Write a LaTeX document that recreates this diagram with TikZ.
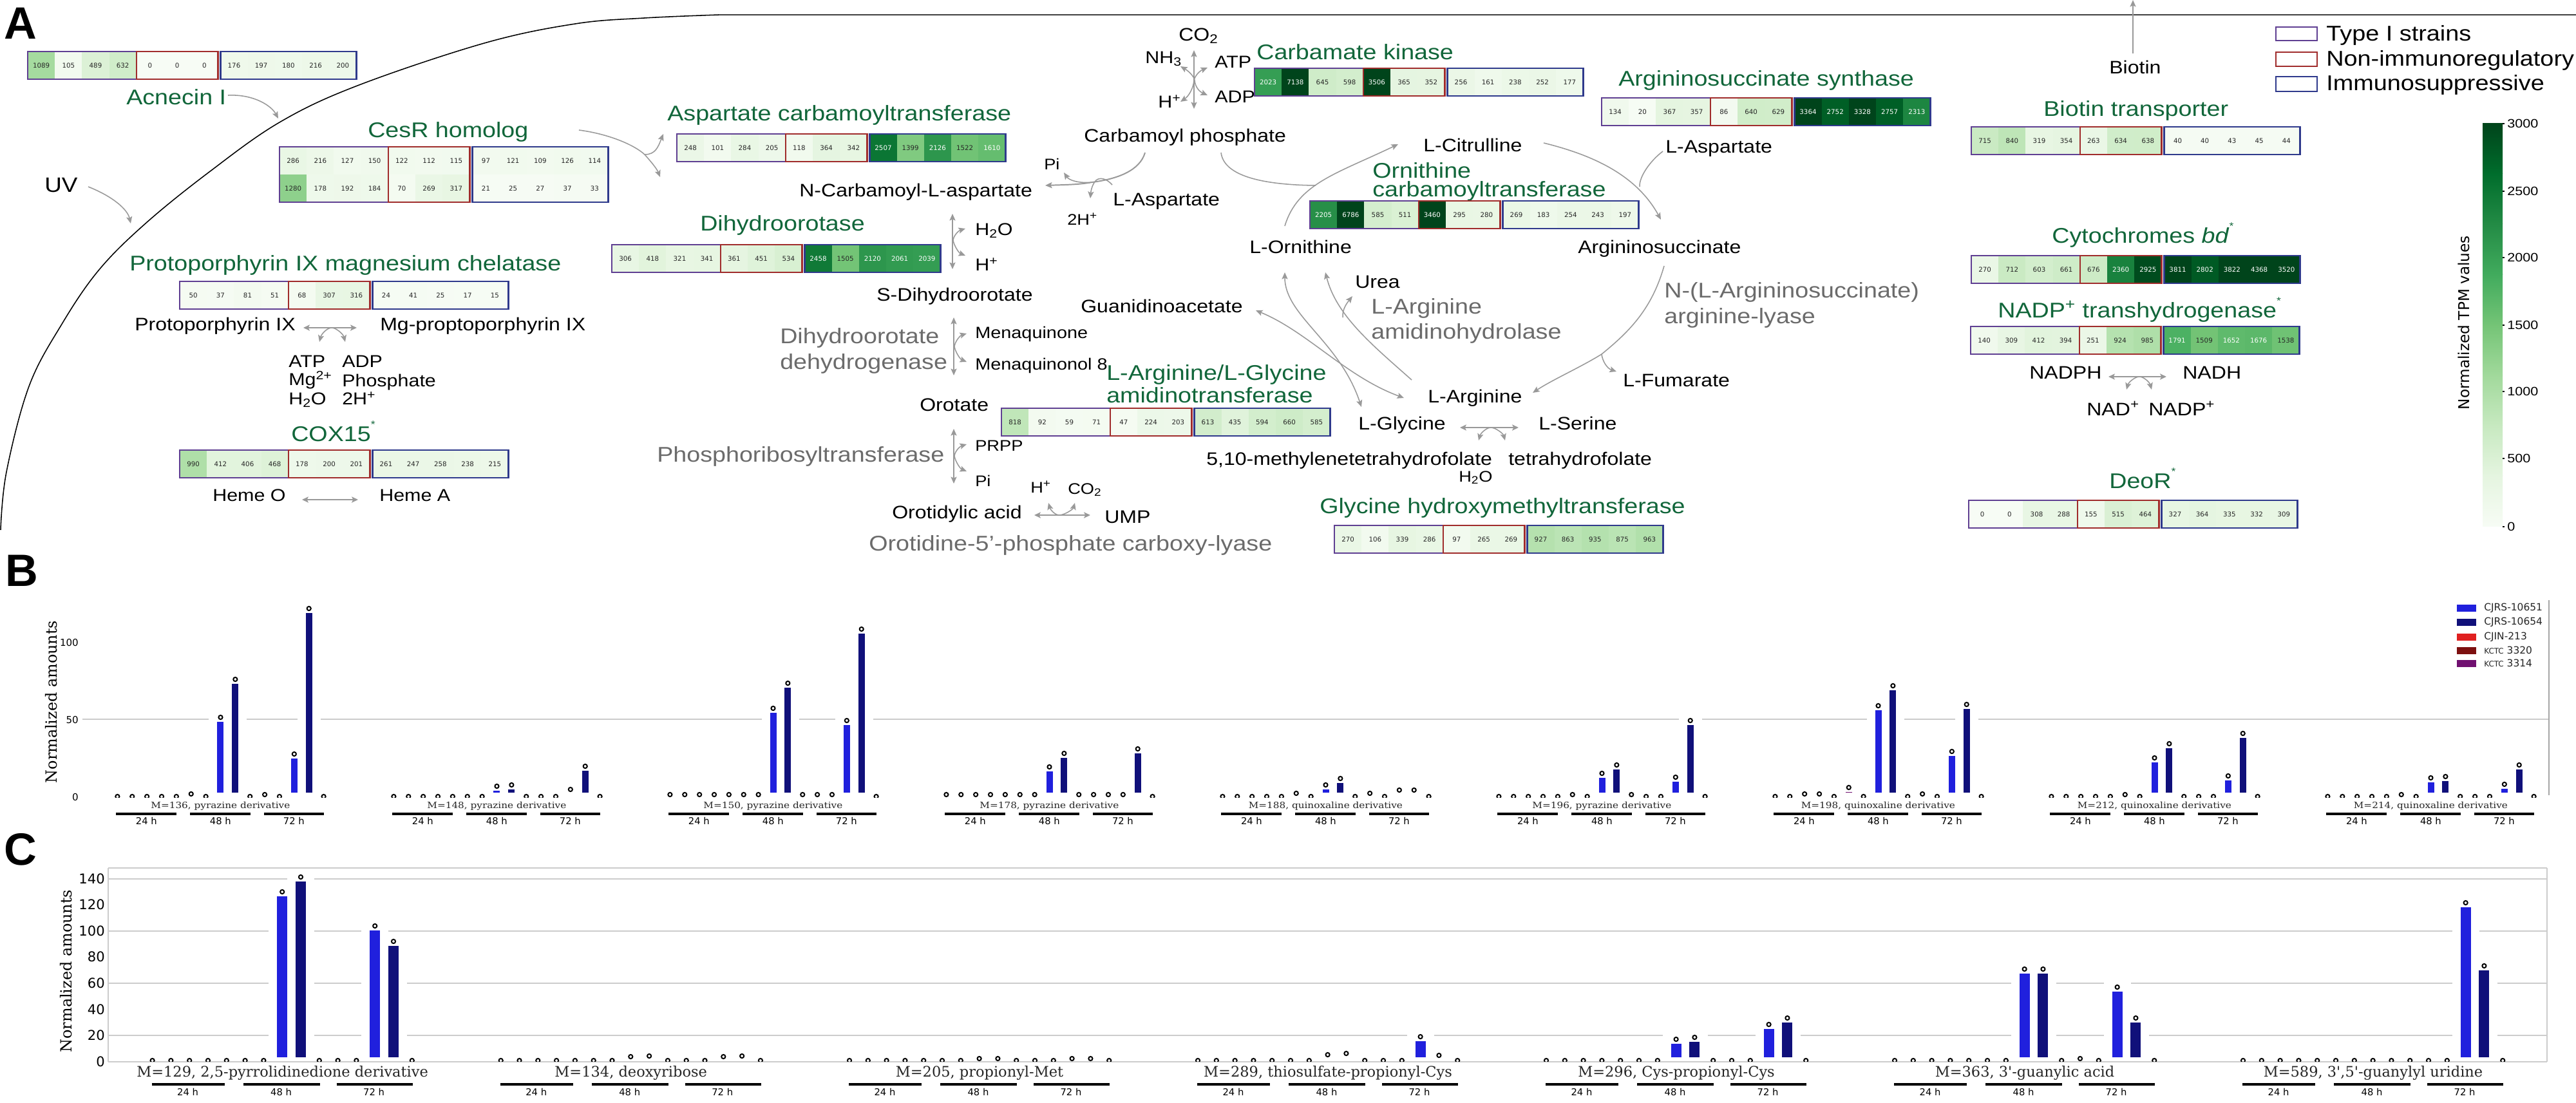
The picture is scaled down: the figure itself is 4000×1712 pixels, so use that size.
\documentclass[tikz,border=0pt]{standalone}
\usepackage{fontspec}
\usetikzlibrary{arrows.meta}
\setmainfont[FakeStretch=1.14]{Liberation Sans}
\newfontfamily\plainsans{Liberation Sans}
\newfontfamily\djs{DejaVu Sans}
\newfontfamily\djsf{DejaVu Serif}
\newfontfamily\djsfw[FakeStretch=1.13]{DejaVu Serif}
\newcommand{\supstar}{\raisebox{0.62em}{\fontsize{11}{11}\selectfont *}}
\definecolor{g0}{HTML}{F7FCF5}\definecolor{g1}{HTML}{E5F5E0}\definecolor{g2}{HTML}{C7E9C0}
\definecolor{g3}{HTML}{A1D99B}\definecolor{g4}{HTML}{74C476}\definecolor{g5}{HTML}{41AB5D}
\definecolor{g6}{HTML}{238B45}\definecolor{g7}{HTML}{006D2C}\definecolor{g8}{HTML}{00441B}
\definecolor{hgreen}{HTML}{11663A}
\definecolor{enzgrey}{HTML}{6B6B6B}
\definecolor{arrgrey}{HTML}{999999}
\definecolor{boxI}{HTML}{5F3F92}
\definecolor{boxN}{HTML}{A02C2C}
\definecolor{boxS}{HTML}{2F3A8C}
\definecolor{gridc}{HTML}{CCCCCC}
\definecolor{barblue}{HTML}{2020DD}
\definecolor{barnavy}{HTML}{10107A}
\definecolor{barred}{HTML}{E02020}
\definecolor{bardred}{HTML}{7D1010}
\definecolor{barpurple}{HTML}{701070}
\tikzset{
  hd/.style={anchor=base west,inner sep=0pt,text=hgreen,font=\fontsize{23.5}{28}\selectfont},
  enz/.style={anchor=base west,inner sep=0pt,text=enzgrey,font=\fontsize{23.5}{28}\selectfont},
  blk/.style={anchor=base west,inner sep=0pt,text=black,font=\fontsize{20}{24}\selectfont},
  sml/.style={anchor=base west,inner sep=0pt,text=black,font=\fontsize{19}{23}\selectfont},
  mnq/.style={anchor=base west,inner sep=0pt,text=black,font=\fontsize{18}{22}\selectfont},
  xsm/.style={anchor=base west,inner sep=0pt,text=black,font=\fontsize{17}{20}\selectfont},
  lgd/.style={anchor=base west,inner sep=0pt,text=black,font=\fontsize{23.6}{28}\selectfont},
  cbt/.style={anchor=west,inner sep=0pt,text=black,font=\fontsize{13.5}{16}\selectfont},
  celltxt/.style={inner sep=0pt,font=\djs\fontsize{7.3}{8}\selectfont},
  panel/.style={anchor=base west,inner sep=0pt,font=\plainsans\bfseries\fontsize{50}{60}\selectfont},
  arr/.style={draw=arrgrey,line width=1.1pt,-{Stealth[length=7.5pt,width=6.5pt,inset=1.5pt]}},
  darr/.style={draw=arrgrey,line width=1.6pt,{Stealth[length=7pt,width=6.5pt,inset=1.5pt]}-{Stealth[length=7pt,width=6.5pt,inset=1.5pt]}},
  barr/.style={draw=arrgrey,line width=1.1pt,{Stealth[length=7.5pt,width=6.5pt,inset=1.5pt]}-{Stealth[length=7.5pt,width=6.5pt,inset=1.5pt]}},
  pln/.style={draw=arrgrey,line width=1.1pt},
  gridl/.style={draw=gridc,line width=2pt},
  tbar/.style={draw=black,line width=2.2pt},
  ylab/.style={rotate=90,inner sep=0pt,font=\djsf\fontsize{17}{20}\selectfont},
  tickB/.style={anchor=east,inner sep=0pt,font=\djs\fontsize{10.7}{13}\selectfont},
  tickC/.style={anchor=east,inner sep=0pt,font=\djs\fontsize{15}{18}\selectfont},
  grpB/.style={anchor=base,inner sep=0pt,text=black!85,font=\djsfw\fontsize{9.6}{12}\selectfont},
  grpC/.style={anchor=base,inner sep=0pt,text=black!85,font=\djsf\fontsize{16}{19}\selectfont},
  hrs/.style={anchor=center,inner sep=0pt,font=\djs\fontsize{10.5}{13}\selectfont},
  mrk/.style={draw=black,fill=white,line width=1.4pt},
  bleg/.style={anchor=west,inner sep=0pt,text=black!85,font=\djs\fontsize{11}{13}\selectfont},
}
% heat strip: name, x, y (top), list of 12 values
\newcommand{\hrow}[4]{%
  \foreach \hV [count=\hI] in {#4}{%
    \pgfmathsetmacro\hT{min(\hV,3000)/375}%
    \pgfmathtruncatemacro\hk{min(floor(\hT),7)}%
    \pgfmathtruncatemacro\hkk{\hk+1}%
    \pgfmathsetmacro\hp{100*(\hT-\hk)}%
    \colorlet{cellc}{g\hkk!\hp!g\hk}%
    \pgfmathsetmacro\hX{#2+(\hI-1)*42.2+(\hI>7?4:0)}%
    \pgfmathtruncatemacro\hW{\hV>=1600?1:0}%
    \ifnum\hW=1 \colorlet{celltext}{white}\else\colorlet{celltext}{black!85}\fi
    \fill[cellc] (\hX,#3) rectangle ++(42.2,43);
    \node[celltxt,text=celltext] (#1-\hI) at (\hX+21.1,#3+21.5) {\hV};
  }}
\newcommand{\hframe}[3]{% x, y, h
  \draw[boxI,line width=1.8pt] (#1,#2) rectangle ++(168.8,#3);
  \draw[boxN,line width=1.8pt] (#1+168.8,#2) rectangle ++(126.6,#3);
  \draw[boxS,line width=1.8pt] (#1+299.4,#2) rectangle ++(211,#3);
}
\newcommand{\hstrip}[4]{\hrow{#1}{#2}{#3}{#4}\hframe{#2}{#3}{43}}
% vertical double arrow with branch
\newcommand{\vbranch}[7]{% name,x,y1,y2,ytop,ymid,ybot
  \coordinate (#1a) at (#2,#3); \coordinate (#1b) at (#2,#4);
  \coordinate (#1c) at (#2+20,#5); \coordinate (#1d) at (#2+1,#6); \coordinate (#1e) at (#2+20,#7);
  \draw[barr] (#1a) -- (#1b);
  \draw[barr] (#1c) .. controls (#2+10,#5+3) and (#2+2,#6-8) .. (#1d) .. controls (#2+2,#6+8) and (#2+10,#7-4) .. (#1e);
}
% horizontal double arrow with branch
\newcommand{\hbranch}[8]{% name,x1,x2,y,xl,xm,xr,dy
  \coordinate (#1a) at (#2,#4); \coordinate (#1b) at (#3,#4);
  \coordinate (#1c) at (#5,#4+#8); \coordinate (#1d) at (#6,#4); \coordinate (#1e) at (#7,#4+#8);
  \draw[darr] (#1a) -- (#1b);
  \draw[barr] (#1c) .. controls (#5+3,#4+0.45*#8) and (#6-7,#4) .. (#1d) .. controls (#6+7,#4) and (#7-3,#4+0.45*#8) .. (#1e);
}
% bars: start,spacing,zero-marker y,base y,half bar width,half halo,list
\newcommand{\barset}[7]{%
  \foreach \mm [count=\ci from 0] in {#7}{%
    \pgfmathsetmacro\bx{#1+\ci*#2}%
    \pgfmathsetmacro\bt{#3-\mm+7}%
    \ifdim\bt pt<#4pt
      \fill[white] (\bx-#6,#3-\mm-9) rectangle (\bx+#6,#4);
    \fi}
  \foreach \mm [count=\ci from 0] in {#7}{%
    \pgfmathsetmacro\bx{#1+\ci*#2}%
    \pgfmathsetmacro\bt{#3-\mm+7}%
    \pgfmathtruncatemacro\cm{mod(\ci,5)}%
    \ifnum\cm=2 \colorlet{bcol}{barblue}\else\ifnum\cm=3 \colorlet{bcol}{barnavy}\else\colorlet{bcol}{barpurple}\fi\fi
    \ifdim\bt pt<#4pt
      \fill[bcol] (\bx-#5,\bt) rectangle (\bx+#5,#4);
    \fi
    \begin{scope}
      \clip (\bx-10,#3-400) rectangle (\bx+10,#3+1);
      \draw[mrk] (\bx,#3-\mm) circle[radius=3.1];
    \end{scope}
  }}
\newcommand{\grpB}[4]{% name,start,label,list
  \barset{#2}{22.87}{1237}{1231}{5}{18}{#4}
  \node[grpB] (#1) at (#2+160,1255) {#3};
  \coordinate (#1t1) at (#2-2,1264); \coordinate (#1t2) at (#2+92,1264);
  \coordinate (#1t3) at (#2+113,1264); \coordinate (#1t4) at (#2+207,1264);
  \coordinate (#1t5) at (#2+228,1264); \coordinate (#1t6) at (#2+321,1264);
  \draw[tbar] (#1t1) -- (#1t2); \draw[tbar] (#1t3) -- (#1t4); \draw[tbar] (#1t5) -- (#1t6);
  \node[hrs] (#1h1) at (#2+45,1275) {24 h};
  \node[hrs] (#1h2) at (#2+160,1275) {48 h};
  \node[hrs] (#1h3) at (#2+274,1275) {72 h};
}
\newcommand{\grpC}[4]{%
  \barset{#2}{28.8}{1647}{1642}{8}{21}{#4}
  \node[grpC] (#1) at (#2+202,1672) {#3};
  \coordinate (#1t1) at (#2-1,1684); \coordinate (#1t2) at (#2+112,1684);
  \coordinate (#1t3) at (#2+141,1684); \coordinate (#1t4) at (#2+260,1684);
  \coordinate (#1t5) at (#2+286,1684); \coordinate (#1t6) at (#2+404,1684);
  \draw[tbar] (#1t1) -- (#1t2); \draw[tbar] (#1t3) -- (#1t4); \draw[tbar] (#1t5) -- (#1t6);
  \node[hrs] (#1h1) at (#2+55,1696) {24 h};
  \node[hrs] (#1h2) at (#2+200,1696) {48 h};
  \node[hrs] (#1h3) at (#2+344,1696) {72 h};
}
\begin{document}
\begin{tikzpicture}[x=0.025cm,y=-0.025cm]
\useasboundingbox (0,0) rectangle (4000,1712);
\fill[white] (0,0) rectangle (4000,1712);
% panel letters
\node[panel] (pA) at (6,60) {A};
\node[panel] (pB) at (8,910) {B};
\node[panel] (pC) at (6,1343) {C};
% cell envelope
\coordinate (env1) at (1,823); \coordinate (env2) at (1116,23); \coordinate (env3) at (4000,23);
\draw[black,line width=1.1pt] plot[smooth,tension=0.6] coordinates {(env1) (10,733) (45,600) (95,505) (153,420) (226,347) (325,267) (434,190) (555,133) (752,67) (893,37) (1000,28) (env2)};
\draw[black!75,line width=1.6pt] (env2) -- (env3);
% Left
\hstrip{sAcn}{43}{80}{1089,105,489,632,0,0,0,176,197,180,216,200}
\node[hd] (tAcn) at (196,162) {Acnecin I};
\coordinate (a1s) at (354,148); \coordinate (a1e) at (432,184);
\draw[arr] (a1s) .. controls (395,146) and (422,165) .. (a1e);
\node[blk,font=\fontsize{23}{28}\selectfont] (tUV) at (69,298) {UV};
\coordinate (a2s) at (137,290); \coordinate (a2e) at (203,347);
\draw[arr] (a2s) .. controls (175,305) and (198,325) .. (a2e);
\node[hd] (tCes) at (571,213) {CesR homolog};
\hrow{sCes1}{434}{228}{286,216,127,150,122,112,115,97,121,109,126,114}
\hrow{sCes2}{434}{271}{1280,178,192,184,70,269,317,21,25,27,37,33}
\hframe{434}{228}{86}
\coordinate (a3s) at (899,202); \coordinate (a3m) at (1001,240); \coordinate (a3e) at (1025,275); \coordinate (a3f) at (1030,208);
\draw[arr] (a3s) .. controls (945,208) and (985,225) .. (a3m) .. controls (1010,250) and (1020,262) .. (a3e);
\draw[arr] (a3m) .. controls (1018,240) and (1022,228) .. (a3f);
\node[hd] (tPmc) at (201,420) {Protoporphyrin IX magnesium chelatase};
\hstrip{sPmc}{279}{437}{50,37,81,51,68,307,316,24,41,25,17,15}
\node[blk] (tPp) at (209,513) {Protoporphyrin IX};
\node[blk] (tMg) at (590,513) {Mg-proptoporphyrin IX};
\hbranch{b1}{471}{554}{509}{496}{515}{536}{22}
\node[sml] (tATPa) at (448,570) {ATP};
\node[sml] (tADPa) at (531,570) {ADP};
\node[sml] (tMg2) at (448,598) {Mg\textsuperscript{2+}};
\node[sml] (tPhos) at (531,600) {Phosphate};
\node[sml] (tH2Oa) at (448,628) {H\textsubscript{2}O};
\node[sml] (t2Ha) at (531,628) {2H\textsuperscript{+}};
\node[hd] (tCox) at (452,685) {COX15\supstar};
\hstrip{sCox}{279}{699}{990,412,406,468,178,200,201,261,247,258,238,215}
\node[sml] (tHO) at (330,778) {Heme O};
\node[sml] (tHA) at (589,778) {Heme A};
\coordinate (h1) at (469,776); \coordinate (h2) at (556,776);
\draw[darr] (h1) -- (h2);
% Pyrimidine column
\node[hd] (tAct) at (1036,187) {Aspartate carbamoyltransferase};
\hstrip{sAct}{1051}{208}{248,101,284,205,118,364,342,2507,1399,2126,1522,1610}
\node[blk] (tNCa) at (1241,305) {N-Carbamoyl-L-aspartate};
\node[hd] (tDho) at (1087,358) {Dihydroorotase};
\hstrip{sDho}{950}{380}{306,418,321,341,361,451,534,2458,1505,2120,2061,2039}
\vbranch{b2}{1479}{332}{418}{355}{373}{397}
\node[sml] (tH2Ob) at (1514,365) {H\textsubscript{2}O};
\node[sml] (tHb) at (1514,420) {H\textsuperscript{+}};
\node[blk] (tSD) at (1361,467) {S-Dihydroorotate};
\vbranch{b3}{1481}{493}{583}{518}{538}{562}
\node[mnq] (tMq) at (1514,525) {Menaquinone};
\node[mnq] (tMq8) at (1514,574) {Menaquinonol 8};
\node[enz] (tDd1) at (1211,533) {Dihydroorotate};
\node[enz] (tDd2) at (1211,573) {dehydrogenase};
\node[blk] (tOro) at (1428,638) {Orotate};
\hstrip{sAgt}{1555}{634}{818,92,59,71,47,224,203,613,435,594,660,585}
\node[hd] (tAg1) at (1718,590) {L-Arginine/L-Glycine};
\node[hd] (tAg2) at (1718,625) {amidinotransferase};
\vbranch{b4}{1481}{666}{751}{690}{708}{732}
\node[xsm] (tPRPP) at (1514,700) {PRPP};
\node[xsm] (tPib) at (1514,755) {Pi};
\node[enz] (tPrt) at (1020,717) {Phosphoribosyltransferase};
\node[xsm] (tHc) at (1600,765) {H\textsuperscript{+}};
\node[xsm] (tCO2c) at (1658,767) {CO\textsubscript{2}};
\node[blk] (tOA) at (1385,805) {Orotidylic acid};
\hbranch{b5}{1606}{1693}{800}{1628}{1645}{1669}{-19}
\node[blk] (tUMP) at (1715,812) {UMP};
\node[enz] (tOcl) at (1349,855) {Orotidine-5’-phosphate carboxy-lyase};
% Top centre
\node[blk] (tCO2) at (1830,63) {CO\textsubscript{2}};
\node[sml] (tNH3) at (1778,98) {NH\textsubscript{3}};
\node[sml] (tATP) at (1886,105) {ATP};
\node[sml] (tADP) at (1886,159) {ADP};
\node[sml] (tHt) at (1798,167) {H\textsuperscript{+}};
\coordinate (v1) at (1854,78); \coordinate (v2) at (1854,169); \coordinate (v3) at (1833,103); \coordinate (v4) at (1875,148); \coordinate (v5) at (1875,105); \coordinate (v6) at (1833,158);
\draw[barr] (v1) -- (v2);
\draw[barr] (v3) .. controls (1845,110) and (1854,118) .. (1855,125) .. controls (1856,135) and (1862,142) .. (v4);
\draw[barr] (v5) .. controls (1863,110) and (1855,118) .. (1854,125) .. controls (1853,138) and (1845,150) .. (v6);
\node[blk] (tCP) at (1683,220) {Carbamoyl phosphate};
\node[hd] (tCk) at (1951,92) {Carbamate kinase};
\hstrip{sCk}{1948}{106}{2023,7138,645,598,3506,365,352,256,161,238,252,177}
\node[xsm] (tPia) at (1621,263) {Pi};
\node[blk] (tLAsp) at (1728,319) {L-Aspartate};
\node[xsm] (t2H) at (1657,349) {2H\textsuperscript{+}};
\coordinate (c1) at (1778,237); \coordinate (c2) at (1623,288); \coordinate (c3) at (1696,283); \coordinate (c4) at (1652,268); \coordinate (c5) at (1727,287); \coordinate (c6) at (1693,308);
\draw[arr,line width=1.4pt] (c1) .. controls (1770,265) and (1735,278) .. (c3) .. controls (1675,287) and (1650,287) .. (c2);
\draw[arr] (c3) .. controls (1675,285) and (1660,280) .. (c4);
\draw[arr] (c5) .. controls (1718,277) and (1708,275) .. (1702,280) .. controls (1696,286) and (1694,296) .. (c6);
\coordinate (d1) at (1896,237); \coordinate (d2) at (2043,288); \coordinate (d3) at (1995,351); \coordinate (d4) at (2171,224);
\draw[pln] (d1) .. controls (1900,270) and (1950,287) .. (d2);
\draw[arr] (d3) .. controls (2015,285) and (2075,270) .. (d4);
\node[blk] (tCit) at (2210,235) {L-Citrulline};
\coordinate (e1) at (2397,222); \coordinate (e2) at (2579,341); \coordinate (e3) at (2582,235); \coordinate (e4) at (2546,290);
\draw[arr] (e1) .. controls (2470,240) and (2540,270) .. (e2);
\draw[pln] (e3) .. controls (2562,250) and (2545,275) .. (e4);
\node[blk] (tLAsp2) at (2586,237) {L-Aspartate};
\node[hd] (tOc1) at (2131,276) {Ornithine};
\node[hd] (tOc2) at (2131,305) {carbamoyltransferase};
\hstrip{sOc}{2034}{312}{2205,6786,585,511,3460,295,280,269,183,254,243,197}
\node[hd] (tAss) at (2513,133) {Argininosuccinate synthase};
\hstrip{sAss}{2487}{152}{134,20,367,357,86,640,629,3364,2752,3328,2757,2313}
\node[blk] (tOrn) at (1940,393) {L-Ornithine};
\node[blk] (tAsu) at (2450,393) {Argininosuccinate};
\coordinate (f1) at (2584,413); \coordinate (f2) at (2380,610); \coordinate (f3) at (2487,550); \coordinate (f4) at (2510,577);
\draw[arr] (f1) .. controls (2565,480) and (2530,515) .. (f3) .. controls (2455,570) and (2410,590) .. (f2);
\draw[arr] (f3) .. controls (2488,560) and (2495,572) .. (f4);
\node[blk] (tFum) at (2520,600) {L-Fumarate};
\node[blk] (tUrea) at (2104,447) {Urea};
\node[enz] (tAm1) at (2129,487) {L-Arginine};
\node[enz] (tAm2) at (2129,526) {amidinohydrolase};
\node[enz] (tNl1) at (2584,462) {N-(L-Argininosuccinate)};
\node[enz] (tNl2) at (2584,502) {arginine-lyase};
\coordinate (k1) at (2192,590); \coordinate (k2) at (2058,423); \coordinate (k3) at (2085,493); \coordinate (k4) at (2100,460);
\draw[arr] (k1) .. controls (2130,535) and (2075,490) .. (k2);
\draw[arr] (k3) .. controls (2084,480) and (2092,470) .. (k4);
\coordinate (m1) at (1995,423); \coordinate (m2) at (2114,632); \coordinate (m3) at (1950,482); \coordinate (m4) at (2180,618);
\draw[barr] (m1) .. controls (1995,490) and (2080,530) .. (m2);
\draw[barr] (m3) .. controls (2030,515) and (2090,585) .. (m4);
\node[blk] (tGaa) at (1678,485) {Guanidinoacetate};
\node[blk] (tArg) at (2217,625) {L-Arginine};
\node[blk] (tGly) at (2109,667) {L-Glycine};
\node[blk] (tSer) at (2389,667) {L-Serine};
\hbranch{b6}{2267}{2358}{664}{2296}{2315}{2337}{20}
\node[blk] (tMth) at (1873,722) {5,10-methylenetetrahydrofolate};
\node[blk] (tThf) at (2342,722) {tetrahydrofolate};
\node[xsm] (tH2Og) at (2265,748) {H\textsubscript{2}O};
\node[hd] (tGht) at (2049,797) {Glycine hydroxymethyltransferase};
\hstrip{sGht}{2072}{816}{270,106,339,286,97,265,269,927,863,935,875,963}
% Right
\coordinate (bi1) at (3312,83); \coordinate (bi2) at (3312,0);
\draw[arr] (bi1) -- (bi2);
\node[blk] (tBio) at (3275,114) {Biotin};
\draw[boxI,line width=1.4pt] (3534,42) rectangle (3598,63);
\draw[boxN,line width=1.4pt] (3534,81) rectangle (3598,103);
\draw[boxS,line width=1.4pt] (3534,119) rectangle (3598,142);
\node[lgd] (lg1) at (3612,63) {Type I strains};
\node[lgd] (lg2) at (3612,102) {Non-immunoregulatory};
\node[lgd] (lg3) at (3612,140) {Immunosuppressive};
\node[hd] (tBt) at (3173,180) {Biotin transporter};
\hstrip{sBt}{3061}{197}{715,840,319,354,263,634,638,40,40,43,45,44}
\node[hd] (tCyt) at (3186,377) {Cytochromes \textit{bd}\supstar};
\hstrip{sCyt}{3061}{397}{270,712,603,661,676,2360,2925,3811,2802,3822,4368,3520}
\node[hd] (tNtr) at (3102,493) {NADP\textsuperscript{+} transhydrogenase\supstar};
\hstrip{sNtr}{3060}{507}{140,309,412,394,251,924,985,1791,1509,1652,1676,1538}
\node[blk] (tNH) at (3151,588) {NADPH};
\node[blk] (tNA) at (3389,588) {NADH};
\hbranch{b7}{3274}{3364}{585}{3302}{3322}{3341}{20}
\node[blk] (tNd) at (3240,645) {NAD\textsuperscript{+}};
\node[blk] (tNp) at (3336,645) {NADP\textsuperscript{+}};
\node[hd] (tDeo) at (3275,758) {DeoR\supstar};
\hstrip{sDeo}{3057}{777}{0,0,308,288,155,515,464,327,364,335,332,309}
% colour bar
\foreach \sg in {0,...,7}{%
  \pgfmathtruncatemacro\sn{\sg+1}%
  \shade[bottom color=g\sg,top color=g\sn] (3855,817-\sg*78.25+0.4) rectangle (3886,817-\sg*78.25-78.25);
}
\foreach \tkv/\tky in {3000/192,2500/297,2000/400,1500/505,1000/608,500/712,0/818}{%
  \draw[black,line width=0.8pt] (3886,\tky) -- (3889,\tky);
  \node[cbt] (cb\tkv) at (3893,\tky) {\tkv};
}
\node[rotate=90,inner sep=0pt,font=\djs\fontsize{16.5}{20}\selectfont] (cbl) at (3826,501) {Normalized TPM values};
% Panel B
\draw[gridl] (128,1117) -- (3958,1117);
\draw[draw=black!35,line width=1.4pt] (3958,932) -- (3958,1235);
\node[ylab] (ylB) at (80,1090) {Normalized amounts};
\node[tickB] (tb100) at (122,998) {100};
\node[tickB] (tb50) at (122,1118) {50};
\node[tickB] (tb0) at (122,1238) {0};
\grpB{gb1}{182.4}{M=136, pyrazine derivative}{0,0,0,0,0,4,0,123,182,0,3,0,66,292,0}
\grpB{gb2}{611.4}{M=148, pyrazine derivative}{0,0,0,0,0,0,0,16,18,0,0,0,11,47,0}
\grpB{gb3}{1040.4}{M=150, pyrazine derivative}{3,3,3,3,3,3,3,137,176,3,3,3,118,260,0}
\grpB{gb4}{1469.4}{M=178, pyrazine derivative}{3,3,3,3,3,3,3,46,67,3,3,3,3,74,0}
\grpB{gb5}{1898.4}{M=188, quinoxaline derivative}{0,0,0,0,0,5,0,18,28,0,5,0,10,10,0}
\grpB{gb6}{2327.4}{M=196, pyrazine derivative}{0,0,0,0,0,3,0,36,49,3,0,0,30,118,0}
\grpB{gb7}{2756.4}{M=198, quinoxaline derivative}{0,0,4,4,0,14,0,141,172,0,4,0,70,143,0}
\grpB{gb8}{3185.4}{M=212, quinoxaline derivative}{0,0,0,0,0,3,0,60,82,0,0,0,32,98,0}
\grpB{gb9}{3614.4}{M=214, quinoxaline derivative}{0,0,0,0,0,3,0,29,31,0,0,0,19,49,0}
\foreach \lgc/\lgy/\lgt in {barblue/944/{CJRS-10651},barnavy/966/{CJRS-10654},barred/989/{CJIN-213},bardred/1010/{{\fontsize{8.5}{10}\selectfont KCTC} 3320},barpurple/1030/{{\fontsize{8.5}{10}\selectfont KCTC} 3314}}{%
  \fill[\lgc] (3815,\lgy-5.5) rectangle (3845,\lgy+5.5);
  \node[bleg] (lgB\lgy) at (3857,\lgy) {\lgt};
}
% Panel C
\foreach \gy in {1348,1365,1446,1527,1608,1649}{\draw[gridl] (168,\gy) -- (3955,\gy);}
\draw[gridl] (168,1348) -- (168,1649);
\draw[gridl] (3955,1348) -- (3955,1649);
\node[ylab] (ylC) at (103,1508) {Normalized amounts};
\foreach \tv/\ty in {140/1365,120/1405,100/1446,80/1486,60/1527,40/1568,20/1608,0/1649}{\node[tickC] (tc\tv) at (163,\ty) {\tv};}
\grpC{gc1}{236.6}{M=129, 2,5-pyrrolidinedione derivative}{0,0,0,0,0,0,0,262,285,0,0,0,209,185,0}
\grpC{gc2}{777.7}{M=134, deoxyribose}{0,0,0,0,0,0,0,6,7,0,0,0,6,7,0}
\grpC{gc3}{1319}{M=205, propionyl-Met}{0,0,0,0,0,0,0,3,3,0,0,0,3,3,0}
\grpC{gc4}{1860}{M=289, thiosulfate-propionyl-Cys}{0,0,0,0,0,0,0,9,11,0,0,0,37,8,0}
\grpC{gc5}{2401}{M=296, Cys-propionyl-Cys}{0,0,0,0,0,0,0,33,36,0,0,0,56,66,0}
\grpC{gc6}{2942}{M=363, 3'-guanylic acid}{0,0,0,0,0,0,0,142,142,0,3,0,114,66,0}
\grpC{gc7}{3483}{M=589, 3',5'-guanylyl uridine}{0,0,0,0,0,0,0,0,0,0,0,0,245,147,0}
\end{tikzpicture}
\end{document}
